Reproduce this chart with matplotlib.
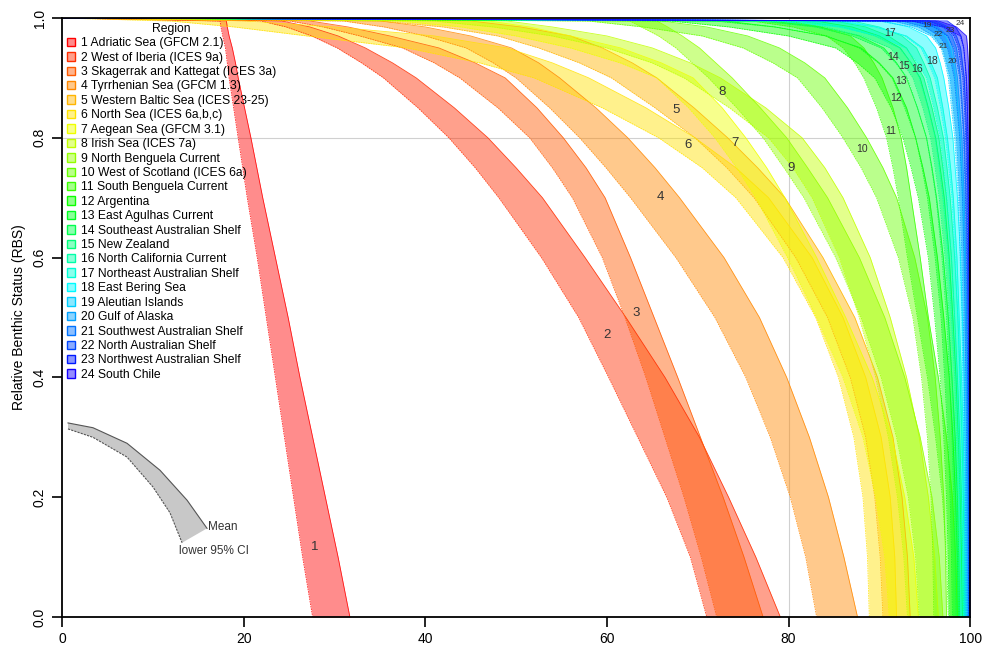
import matplotlib
matplotlib.use('Agg')
import matplotlib.pyplot as plt
import matplotlib.colors as mcolors
from matplotlib.patches import Patch

plt.rcParams['font.family'] = ['Liberation Sans', 'DejaVu Sans']

regions = [
    '1 Adriatic Sea (GFCM 2.1)', '2 West of Iberia (ICES 9a)',
    '3 Skagerrak and Kattegat (ICES 3a)', '4 Tyrrhenian Sea (GFCM 1.3)',
    '5 Western Baltic Sea (ICES 23-25)', '6 North Sea (ICES 6a,b,c)',
    '7 Aegean Sea (GFCM 3.1)', '8 Irish Sea (ICES 7a)',
    '9 North Benguela Current', '10 West of Scotland (ICES 6a)',
    '11 South Benguela Current', '12 Argentina', '13 East Agulhas Current',
    '14 Southeast Australian Shelf', '15 New Zealand',
    '16 North California Current', '17 Northeast Australian Shelf',
    '18 East Bering Sea', '19 Aleutian Islands', '20 Gulf of Alaska',
    '21 Southwest Australian Shelf', '22 North Australian Shelf',
    '23 Northwest Australian Shelf', '24 South Chile',
]

# RBS levels at which the x (% trawled) of each curve was read
levels = [0.995, 0.985, 0.97, 0.95, 0.925, 0.9, 0.85, 0.8, 0.75, 0.7,
          0.6, 0.5, 0.4, 0.3, 0.2, 0.1, 0.0]

# mean curve (upper edge of each band)
mean_x = [
    [18.1, 18.2, 18.4, 18.75, 19.1, 19.4, 20.1, 20.8, 21.45, 22.1, 23.5, 24.9, 26.2, 27.6, 29.0, 30.4, 31.7],
    [24.2, 27.3, 30.4, 33.4, 36.4, 39.0, 43.2, 46.9, 50.0, 52.9, 57.6, 62.1, 66.4, 70.2, 73.4, 76.4, 79.1],
    [27.3, 31.5, 36.1, 41.5, 45.5, 48.8, 52.3, 55.2, 57.7, 59.8, 62.6, 65.2, 67.8, 70.3, 72.8, 75.1, 77.2],
    [35.0, 40.0, 45.0, 49.5, 52.5, 54.8, 58.8, 62.3, 65.3, 68.0, 72.9, 76.8, 79.8, 82.3, 84.4, 86.1, 87.6],
    [45.0, 50.5, 56.0, 59.5, 62.8, 65.5, 69.6, 73.3, 76.6, 79.6, 83.8, 87.3, 89.8, 91.5, 92.5, 93.1, 93.4],
    [20.0, 30.0, 41.0, 49.0, 54.0, 58.0, 64.3, 69.7, 74.2, 77.8, 82.6, 86.0, 88.5, 90.2, 91.2, 91.7, 91.9],
    [47.0, 51.5, 56.0, 61.5, 66.0, 69.5, 72.7, 75.3, 77.6, 79.6, 83.1, 86.3, 89.2, 91.4, 92.8, 93.8, 94.3],
    [49.0, 54.0, 60.0, 65.0, 69.2, 72.5, 77.5, 81.5, 84.0, 86.0, 89.0, 91.2, 93.0, 94.4, 95.4, 96.1, 96.5],
    [65.5, 66.7, 68.3, 70.2, 72.0, 73.8, 76.9, 79.8, 82.1, 84.3, 87.8, 90.6, 92.8, 94.5, 95.8, 96.6, 97.0],
    [66.0, 71.0, 75.5, 79.0, 81.8, 84.0, 86.5, 88.6, 90.4, 91.9, 93.9, 95.3, 96.15, 96.7, 97.1, 97.3, 97.4],
    [80.0, 83.5, 86.8, 88.3, 89.4, 90.3, 91.5, 92.4, 93.0, 93.5, 94.5, 95.4, 96.5, 97.4, 98.05, 98.4, 98.6],
    [73.0, 78.5, 84.0, 88.0, 90.0, 91.5, 93.0, 94.0, 94.8, 95.5, 96.4, 97.1, 97.7, 98.1, 98.4, 98.6, 98.7],
    [78.0, 83.5, 87.8, 90.5, 91.9, 93.0, 94.2, 95.2, 95.8, 96.3, 97.05, 97.6, 98.0, 98.35, 98.6, 98.75, 98.85],
    [83.0, 87.0, 90.0, 92.3, 93.5, 94.5, 95.4, 96.2, 96.7, 97.15, 97.7, 98.1, 98.45, 98.7, 98.9, 99.05, 99.15],
    [85.0, 88.5, 91.0, 93.0, 94.0, 94.9, 95.8, 96.55, 97.0, 97.4, 97.95, 98.3, 98.6, 98.85, 99.05, 99.2, 99.3],
    [87.0, 90.0, 92.5, 94.1, 94.9, 95.6, 96.4, 97.05, 97.45, 97.8, 98.3, 98.65, 98.9, 99.1, 99.25, 99.35, 99.4],
    [85.0, 89.5, 93.0, 94.8, 95.7, 96.4, 97.0, 97.5, 97.85, 98.15, 98.55, 98.8, 99.05, 99.25, 99.35, 99.45, 99.5],
    [90.5, 93.2, 95.2, 96.2, 96.7, 97.1, 97.65, 98.1, 98.35, 98.6, 98.95, 99.15, 99.35, 99.45, 99.55, 99.6, 99.65],
    [94.0, 96.0, 97.3, 97.85, 98.15, 98.4, 98.65, 98.9, 99.05, 99.2, 99.4, 99.5, 99.6, 99.7, 99.75, 99.8, 99.82],
    [94.5, 96.4, 97.6, 98.1, 98.35, 98.6, 98.85, 99.1, 99.22, 99.35, 99.5, 99.6, 99.7, 99.77, 99.82, 99.87, 99.89],
    [95.5, 97.0, 98.0, 98.5, 98.75, 98.95, 99.15, 99.35, 99.45, 99.55, 99.68, 99.76, 99.83, 99.88, 99.92, 99.94, 99.96],
    [96.2, 97.6, 98.5, 98.95, 99.15, 99.35, 99.5, 99.62, 99.7, 99.76, 99.84, 99.89, 99.93, 99.95, 99.97, 99.98, 99.99],
    [97.5, 98.4, 99.0, 99.3, 99.45, 99.6, 99.7, 99.78, 99.83, 99.87, 99.91, 99.94, 99.96, 99.97, 99.98, 99.99, 100.0],
    [96.5, 98.5, 99.6, 99.72, 99.8, 99.85, 99.89, 99.92, 99.94, 99.95, 99.97, 99.98, 99.99, 99.99, 100.0, 100.0, 100.0],
]

# lower 95% CI (lower edge of each band)
lower_x = [
    [17.4, 17.5, 17.7, 18.0, 18.2, 18.4, 18.9, 19.4, 19.9, 20.4, 21.5, 22.5, 23.5, 24.5, 25.5, 26.5, 27.6],
    [21.9, 24.7, 27.5, 30.3, 33.0, 35.4, 39.2, 42.6, 45.5, 48.1, 52.8, 56.9, 60.2, 63.4, 66.6, 69.2, 71.0],
    [25.1, 28.8, 32.8, 37.5, 41.0, 43.8, 48.0, 51.5, 54.0, 56.2, 59.5, 62.0, 64.3, 66.4, 68.5, 70.4, 72.1],
    [31.0, 35.5, 40.0, 44.5, 47.5, 50.0, 53.7, 57.0, 59.9, 62.6, 67.6, 71.9, 75.3, 78.0, 80.2, 81.9, 83.1],
    [35.0, 42.0, 48.0, 52.5, 57.0, 60.5, 65.3, 69.7, 73.2, 76.2, 80.8, 84.3, 86.8, 88.5, 89.5, 90.1, 90.4],
    [12.0, 19.0, 27.0, 38.0, 46.0, 52.0, 59.5, 65.7, 70.5, 74.2, 79.4, 83.0, 85.5, 87.2, 88.2, 88.7, 88.9],
    [37.0, 44.0, 50.0, 56.0, 61.5, 65.5, 69.0, 71.9, 74.3, 76.4, 79.9, 83.1, 86.0, 88.2, 89.6, 90.6, 91.1],
    [41.0, 47.5, 54.0, 60.0, 65.0, 68.5, 73.5, 77.8, 80.5, 82.6, 85.6, 87.8, 89.6, 91.0, 92.0, 92.7, 93.1],
    [62.5, 63.8, 65.7, 67.6, 69.4, 71.2, 74.3, 77.2, 79.5, 81.7, 85.2, 88.0, 90.2, 91.9, 93.2, 94.0, 94.4],
    [58.0, 64.0, 70.5, 75.0, 78.3, 81.0, 83.7, 86.0, 88.0, 89.7, 92.1, 93.7, 94.65, 95.3, 95.7, 95.9, 96.0],
    [76.0, 80.5, 84.2, 86.0, 87.3, 88.3, 89.7, 90.8, 91.5, 92.1, 93.1, 94.2, 95.3, 96.2, 96.95, 97.4, 97.6],
    [67.0, 73.5, 80.0, 85.2, 87.6, 89.5, 91.3, 92.6, 93.5, 94.3, 95.4, 96.1, 96.7, 97.1, 97.4, 97.6, 97.7],
    [72.0, 78.5, 84.2, 87.8, 89.9, 91.4, 92.8, 94.0, 94.7, 95.3, 96.15, 96.8, 97.2, 97.55, 97.8, 97.95, 98.05],
    [77.0, 83.0, 87.0, 90.2, 91.8, 93.1, 94.2, 95.2, 95.75, 96.25, 96.9, 97.4, 97.75, 98.0, 98.2, 98.35, 98.45],
    [79.0, 84.0, 88.0, 91.2, 92.6, 93.7, 94.8, 95.65, 96.15, 96.6, 97.25, 97.7, 98.0, 98.25, 98.45, 98.6, 98.7],
    [81.0, 86.0, 89.5, 92.2, 93.5, 94.4, 95.35, 96.15, 96.6, 97.0, 97.6, 97.95, 98.3, 98.5, 98.65, 98.75, 98.8],
    [79.0, 85.5, 90.0, 92.9, 94.2, 95.2, 96.0, 96.7, 97.1, 97.45, 97.95, 98.3, 98.55, 98.75, 98.85, 98.95, 99.0],
    [85.5, 89.8, 92.8, 94.6, 95.4, 96.1, 96.75, 97.3, 97.65, 98.0, 98.35, 98.65, 98.85, 99.05, 99.15, 99.2, 99.25],
    [90.0, 93.5, 95.7, 96.8, 97.25, 97.6, 97.95, 98.3, 98.5, 98.7, 98.9, 99.1, 99.2, 99.3, 99.35, 99.4, 99.42],
    [91.5, 94.3, 96.0, 96.95, 97.4, 97.8, 98.15, 98.5, 98.68, 98.85, 99.1, 99.25, 99.35, 99.43, 99.48, 99.53, 99.55],
    [92.5, 95.0, 96.6, 97.5, 97.9, 98.25, 98.55, 98.85, 99.0, 99.15, 99.32, 99.44, 99.53, 99.6, 99.64, 99.66, 99.68],
    [93.8, 96.0, 97.5, 98.2, 98.55, 98.85, 99.08, 99.28, 99.38, 99.48, 99.6, 99.67, 99.73, 99.77, 99.79, 99.81, 99.82],
    [95.5, 97.2, 98.2, 98.7, 98.95, 99.2, 99.38, 99.52, 99.6, 99.67, 99.75, 99.8, 99.84, 99.86, 99.88, 99.89, 99.9],
    [93.5, 97.0, 98.9, 99.3, 99.45, 99.55, 99.65, 99.72, 99.76, 99.8, 99.85, 99.88, 99.9, 99.92, 99.93, 99.94, 99.95],
]

# where the region numbers sit on the bands
label_x = [27.8, 60.0, 63.2, 65.9, 67.6, 68.9, 74.1, 72.7, 80.3, 88.1, 91.2, 91.9,
           92.4, 91.5, 92.7, 94.1, 91.2, 95.8, 95.2, 98.0, 97.0, 96.5, 97.8, 98.9]
label_y = [0.117, 0.471, 0.508, 0.701, 0.846, 0.788, 0.791, 0.876, 0.750, 0.781,
           0.811, 0.866, 0.895, 0.935, 0.920, 0.915, 0.975, 0.928, 0.987, 0.927,
           0.952, 0.972, 0.979, 0.990]

# small key drawing in the lower left
key_mean_x = [0.66, 3.41, 7.16, 10.79, 13.77, 15.97]
key_mean_y = [0.324, 0.316, 0.290, 0.245, 0.195, 0.148]
key_lower_x = [0.66, 3.41, 7.16, 10.02, 11.89, 13.22]
key_lower_y = [0.314, 0.300, 0.267, 0.217, 0.174, 0.124]

fig = plt.figure(figsize=(9.86, 6.59), dpi=100)
ax = fig.add_axes([0.0629, 0.0637, 0.921, 0.909])

colors = [mcolors.hsv_to_rgb((i / 23 * 0.68, 1.0, 1.0)) for i in range(24)]

ax.axhline(0.8, color='#d0d0d0', lw=0.8, zorder=0)
ax.axvline(80, color='#d0d0d0', lw=0.8, zorder=0)

yy = [1.0] + levels
for i in range(24):
    xm = [0.0] + mean_x[i]
    xl = [0.0] + lower_x[i]
    ax.fill_betweenx(yy, xl, xm, color=colors[i], alpha=0.45, lw=0)
    ax.plot(xm, yy, color=colors[i], lw=0.6, alpha=0.85)
    ax.plot(xl, yy, color=colors[i], lw=0.6, alpha=0.85, ls=(0, (2, 1)))
    if i < 9:
        fs = 9.5
    elif i < 18:
        fs = 7.5
    else:
        fs = 6
    ax.text(label_x[i], label_y[i], str(i + 1), fontsize=fs, ha='center',
            va='center', color='#333333')

# key
px = key_mean_x + key_lower_x[::-1]
py = key_mean_y + key_lower_y[::-1]
ax.fill(px, py, color='#c8c8c8', lw=0)
ax.plot(key_mean_x, key_mean_y, color='#555555', lw=0.8)
ax.plot(key_lower_x, key_lower_y, color='#555555', lw=0.8, ls=(0, (2, 1)))
ax.text(16.1, 0.150, 'Mean', fontsize=8.5, va='center', ha='left', color='#333333')
ax.text(12.9, 0.110, 'lower 95% CI', fontsize=8.5, va='center', ha='left', color='#333333')

handles = [Patch(facecolor=(*c, 0.45), edgecolor=c, lw=1.0) for c in colors]
leg = ax.legend(handles, regions, loc='upper left', bbox_to_anchor=(0.0, 1.0),
                frameon=False, fontsize=8.7, title='Region', title_fontsize=8.7,
                handlelength=0.7, handleheight=0.7, handletextpad=0.5,
                labelspacing=0.2, borderaxespad=0.2, borderpad=0.2)

ax.set_xlim(0, 100)
ax.set_ylim(0, 1)
ax.set_xticks([0, 20, 40, 60, 80, 100])
ax.set_yticks([0.0, 0.2, 0.4, 0.6, 0.8, 1.0])
ax.set_yticklabels(['0.0', '0.2', '0.4', '0.6', '0.8', '1.0'], rotation=90, va='center')
ax.tick_params(direction='out', length=7, width=1.2, labelsize=10, pad=4)
ax.set_ylabel('Relative Benthic Status (RBS)', fontsize=10, labelpad=5)
for s in ax.spines.values():
    s.set_linewidth(1.3)

fig.savefig('out.png', dpi=100)
